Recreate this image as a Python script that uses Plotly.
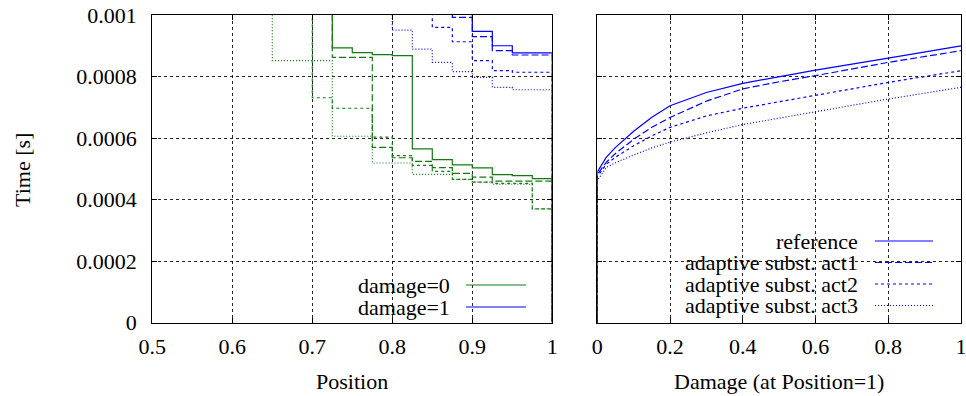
import plotly.graph_objects as go

W, H = 966, 396

# ---------------- data ----------------
positions = [0.625, 0.65, 0.675, 0.7, 0.725, 0.75, 0.775, 0.8, 0.825, 0.85,
             0.875, 0.9, 0.925, 0.95, 0.975, 1.0]

# damage = 0 (green)
d0_reference = [None, None, None, 0.00110, 0.000893, 0.000878, 0.000871, 0.000868,
                0.000565, 0.000530, 0.000513, 0.000503, 0.000481, 0.000478, 0.000468, 0.0]
d0_act1 = [None, None, None, 0.00110, 0.000862, 0.000862, 0.000570, 0.000536,
           0.000524, 0.000504, 0.000485, 0.000473, 0.000460, 0.000460, 0.000460, 0.0]
d0_act2 = [None, None, 0.00110, 0.000731, 0.000697, 0.000697, 0.000603, 0.000543,
           0.000511, 0.000492, 0.000466, 0.000457, 0.000453, 0.000453, 0.000370, 0.0]
d0_act3 = [0.00110, 0.000852, 0.000852, 0.000852, 0.000606, 0.000606, 0.000519, 0.000519,
           0.000482, 0.000482, 0.000466, 0.000457, 0.000450, 0.000450, 0.000370, 0.0]

# damage = 1 (blue)
d1_reference = [None, None, None, None, None, None, None, None,
                None, None, 0.00110, 0.000947, 0.000900, 0.000877, 0.000877, 0.0]
d1_act1 = [None, None, None, None, None, None, None, None,
           None, 0.00110, 0.000992, 0.000930, 0.000884, 0.000870, 0.000870, 0.0]
d1_act2 = [None, None, None, None, None, None, None, None,
           0.00110, 0.000960, 0.000913, 0.000852, 0.000819, 0.000814, 0.000814, 0.0]
d1_act3 = [None, None, None, None, None, None, 0.00110, 0.000951,
           0.000889, 0.000846, 0.000816, 0.000797, 0.000765, 0.000757, 0.000757, 0.0]

# right panel: time vs damage at position 1
damage = [0.0, 0.0, 0.025, 0.05, 0.1, 0.15, 0.2, 0.3, 0.4, 0.5, 0.6, 0.8, 1.0]
t_reference = [0.0, 0.000490, 0.000538, 0.000570, 0.000622, 0.000668, 0.000705,
               0.000748, 0.000778, 0.000800, 0.000821, 0.000860, 0.000900]
t_act1 = [0.0, 0.000482, 0.000522, 0.000550, 0.000596, 0.000635, 0.000667,
          0.000720, 0.000760, 0.000783, 0.000803, 0.000846, 0.000884]
t_act2 = [0.0, 0.000475, 0.000515, 0.000538, 0.000575, 0.000607, 0.000635,
          0.000672, 0.000697, 0.000718, 0.000738, 0.000781, 0.000819]
t_act3 = [0.0, 0.000462, 0.000505, 0.000520, 0.000545, 0.000568, 0.000587,
          0.000617, 0.000644, 0.000665, 0.000687, 0.000727, 0.000765]

x1_ticks = [0.5, 0.6, 0.7, 0.8, 0.9, 1.0]
x1_labels = ["0.5", "0.6", "0.7", "0.8", "0.9", "1"]
x2_ticks = [0, 0.2, 0.4, 0.6, 0.8, 1.0]
x2_labels = ["0", "0.2", "0.4", "0.6", "0.8", "1"]
y_ticks = [0, 0.0002, 0.0004, 0.0006, 0.0008, 0.001]
y_labels = ["0", "0.0002", "0.0004", "0.0006", "0.0008", "0.001"]

series_names = ["reference", "adaptive subst. act1", "adaptive subst. act2", "adaptive subst. act3"]

# ---------------- style ----------------
GREEN = "#137a13"
BLUE = "#0000ff"
FONT = "Liberation Serif, Times New Roman, Times, serif"
FS = 22
dashes = ["solid", "7px,3px", "3px,3px", "1px,2px"]


def px_x(p):
    return p / W


def px_y(p):
    return 1 - p / H


fig = go.Figure()

for ys, dsh in zip([d0_reference, d0_act1, d0_act2, d0_act3], dashes):
    fig.add_trace(go.Scatter(x=positions, y=ys, mode="lines", line_shape="hv",
                             line=dict(color=GREEN, width=1.2, dash=dsh),
                             showlegend=False, xaxis="x", yaxis="y"))
for ys, dsh in zip([d1_reference, d1_act1, d1_act2, d1_act3], dashes):
    fig.add_trace(go.Scatter(x=positions, y=ys, mode="lines", line_shape="hv",
                             line=dict(color=BLUE, width=1.2, dash=dsh),
                             showlegend=False, xaxis="x", yaxis="y"))
for ys, dsh in zip([t_reference, t_act1, t_act2, t_act3], dashes):
    fig.add_trace(go.Scatter(x=damage, y=ys, mode="lines",
                             line=dict(color=BLUE, width=1.2, dash=dsh),
                             showlegend=False, xaxis="x2", yaxis="y2"))

L0, L1 = 152.3, 552.3
R0, R1 = 597.3, 961.0
T, B = 15.0, 322.7

axis_common = dict(showline=True, linecolor="black", linewidth=1.2, mirror="ticks",
                   ticks="inside", ticklen=5, tickcolor="black", tickwidth=1,
                   showgrid=True, gridcolor="rgba(0,0,0,0.85)", griddash="dot", gridwidth=1,
                   zeroline=False, automargin=False, ticklabeloverflow="allow",
                   tickfont=dict(family=FONT, size=FS, color="black"))

fig.update_layout(
    width=W, height=H,
    margin=dict(l=0, r=0, t=0, b=0, pad=0, autoexpand=False),
    paper_bgcolor="white", plot_bgcolor="white",
    showlegend=False,
    font=dict(family=FONT, size=FS, color="black"),
    xaxis=dict(domain=[px_x(L0), px_x(L1)], range=[0.5, 1.0], tickvals=x1_ticks,
               ticktext=x1_labels, anchor="y", ticklabelstandoff=4, **axis_common),
    yaxis=dict(domain=[px_y(B), px_y(T)], range=[0, 0.001], tickvals=y_ticks,
               ticktext=y_labels, anchor="x", ticklabelstandoff=10, **axis_common),
    xaxis2=dict(domain=[px_x(R0), px_x(R1)], range=[0, 1.0], tickvals=x2_ticks,
                ticktext=x2_labels, anchor="y2", ticklabelstandoff=4, **axis_common),
    yaxis2=dict(domain=[px_y(B), px_y(T)], range=[0, 0.001], tickvals=y_ticks,
                showticklabels=False, anchor="x2", **axis_common),
)

# opaque key boxes (cover grid, not lines)
fig.add_shape(type="rect", xref="paper", yref="paper", layer="between",
              x0=px_x(345), x1=px_x(551), y0=px_y(322), y1=px_y(273),
              fillcolor="white", line=dict(width=0))
fig.add_shape(type="rect", xref="paper", yref="paper", layer="between",
              x0=px_x(600), x1=px_x(947), y0=px_y(322), y1=px_y(227),
              fillcolor="white", line=dict(width=0))

# keys
left_rows = [("damage=0", GREEN, 285), ("damage=1", BLUE, 307)]
for txt, col, yy in left_rows:
    fig.add_annotation(text=txt, xref="paper", yref="paper", x=px_x(452), y=px_y(yy),
                       xanchor="right", yanchor="middle", showarrow=False,
                       font=dict(family=FONT, size=FS, color="black"))
    fig.add_shape(type="line", xref="paper", yref="paper", x0=px_x(466), x1=px_x(526),
                  y0=px_y(yy), y1=px_y(yy), line=dict(color=col, width=1.2))

right_rows = [241, 262.5, 284, 305.5]
for txt, dsh, yy in zip(series_names, dashes, right_rows):
    fig.add_annotation(text=txt, xref="paper", yref="paper", x=px_x(860), y=px_y(yy),
                       xanchor="right", yanchor="middle", showarrow=False,
                       font=dict(family=FONT, size=FS, color="black"))
    fig.add_shape(type="line", xref="paper", yref="paper", x0=px_x(875), x1=px_x(933),
                  y0=px_y(yy), y1=px_y(yy), line=dict(color=BLUE, width=1.2, dash=dsh))

# axis titles
fig.add_annotation(text="Position", xref="paper", yref="paper", x=px_x((L0 + L1) / 2), y=px_y(381),
                   xanchor="center", yanchor="middle", showarrow=False,
                   font=dict(family=FONT, size=FS, color="black"))
fig.add_annotation(text="Damage (at Position=1)", xref="paper", yref="paper", x=px_x((R0 + R1) / 2),
                   y=px_y(381), xanchor="center", yanchor="middle", showarrow=False,
                   font=dict(family=FONT, size=FS, color="black"))
fig.add_annotation(text="Time [s]", xref="paper", yref="paper", x=px_x(22), y=px_y(170),
                   xanchor="center", yanchor="middle", showarrow=False, textangle=-90,
                   font=dict(family=FONT, size=FS, color="black"))

fig.write_html("out.html", config={"displayModeBar": False},
               post_script="document.body.style.margin='0px';document.body.style.overflow='hidden';")
